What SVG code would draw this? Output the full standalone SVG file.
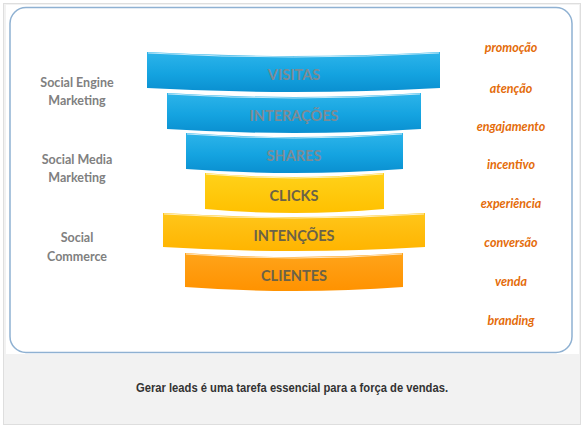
<svg xmlns="http://www.w3.org/2000/svg" width="585" height="430" viewBox="0 0 585 430">
<defs>
<linearGradient id="gBlue" x1="0" y1="0" x2="0" y2="1">
<stop offset="0" stop-color="#2db4ea"/><stop offset="0.55" stop-color="#14a3e0"/><stop offset="1" stop-color="#0a8fd0"/>
</linearGradient>
<linearGradient id="gYel" x1="0" y1="0" x2="0" y2="1">
<stop offset="0" stop-color="#ffd21a"/><stop offset="1" stop-color="#ffc000"/>
</linearGradient>
<linearGradient id="gYel2" x1="0" y1="0" x2="0" y2="1">
<stop offset="0" stop-color="#ffc61a"/><stop offset="1" stop-color="#ffb400"/>
</linearGradient>
<linearGradient id="gOr" x1="0" y1="0" x2="0" y2="1">
<stop offset="0" stop-color="#ffa41a"/><stop offset="1" stop-color="#ff9200"/>
</linearGradient>
</defs>
<style>
.hl{fill:none;stroke:#ffffff;stroke-opacity:0.7;stroke-width:1}
.bt{font-family:Lato,"Open Sans",sans-serif;font-weight:bold;font-size:14.5px;text-anchor:middle}
.tb{fill:#7d8b94}
.ty{fill:#6b6247}
.lft{font-family:Lato,"Open Sans",sans-serif;font-weight:bold;font-size:12.5px;fill:#808080;text-anchor:middle}
.rgt{font-family:Lato,"Open Sans",sans-serif;font-weight:bold;font-style:italic;font-size:12.5px;fill:#e46c0a;text-anchor:middle}
.cap{font-family:"Liberation Sans",Arial,sans-serif;font-weight:bold;font-size:12px;fill:#333333;text-anchor:middle}
</style>
<rect x="3.5" y="3.5" width="577" height="421" fill="#f2f2f2" stroke="#dedede"/>
<rect x="6" y="5" width="573" height="349" fill="#ffffff"/>
<rect x="10" y="7.5" width="562" height="345" rx="16" ry="16" fill="#ffffff" stroke="#8fb1d2" stroke-width="1.5"/>

<g id="visitas">
<path d="M147,52 Q293.5,60 440,52 L440,88 Q293.5,96 147,88 Z" fill="url(#gBlue)"/>
<path class="hl" d="M148,53 Q293.5,61 439,53"/>
<text class="bt tb" x="294" y="80">VISITAS</text>
</g>
<g id="interacoes">
<path d="M167,93 Q294,101 421,93 L421,129 Q294,137 167,129 Z" fill="url(#gBlue)"/>
<path class="hl" d="M168,94 Q294,102 420,94"/>
<text class="bt tb" x="294" y="121">INTERAÇÕES</text>
</g>
<g id="shares">
<path d="M186,133 Q294.5,141 403,133 L403,169 Q294.5,177 186,169 Z" fill="url(#gBlue)"/>
<path class="hl" d="M187,134 Q294.5,142 402,134"/>
<text class="bt tb" x="294" y="161">SHARES</text>
</g>
<g id="clicks">
<path d="M205,173 Q294.5,181 384,173 L384,209 Q294.5,217 205,209 Z" fill="url(#gYel)"/>
<path class="hl" d="M206,174 Q294.5,182 383,174"/>
<text class="bt ty" x="294" y="201">CLICKS</text>
</g>
<g id="intencoes">
<path d="M163,213 Q294,221 425,213 L425,247 Q294,255 163,247 Z" fill="url(#gYel2)"/>
<path class="hl" d="M164,214 Q294,222 424,214"/>
<text class="bt ty" x="294" y="241">INTENÇÕES</text>
</g>
<g id="clientes">
<path d="M185,253 Q294,261 403,253 L403,287 Q294,295 185,287 Z" fill="url(#gOr)"/>
<path class="hl" d="M186,254 Q294,262 402,254"/>
<text class="bt ty" x="294" y="281">CLIENTES</text>
</g>

<g id="left-labels">
<text class="lft" x="77" y="87">Social Engine</text>
<text class="lft" x="77" y="105">Marketing</text>
<text class="lft" x="77" y="164">Social Media</text>
<text class="lft" x="77" y="182">Marketing</text>
<text class="lft" x="77" y="242">Social</text>
<text class="lft" x="77" y="261">Commerce</text>
</g>
<g id="right-labels">
<text class="rgt" x="511" y="52">promoção</text>
<text class="rgt" x="511" y="93">atenção</text>
<text class="rgt" x="511" y="131">engajamento</text>
<text class="rgt" x="511" y="169">incentivo</text>
<text class="rgt" x="511" y="208">experiência</text>
<text class="rgt" x="511" y="247">conversão</text>
<text class="rgt" x="511" y="286">venda</text>
<text class="rgt" x="511" y="325">branding</text>
</g>
<g id="connectors"></g>
<text class="cap" x="292" y="392" textLength="312" lengthAdjust="spacingAndGlyphs">Gerar leads é uma tarefa essencial para a força de vendas.</text>
</svg>
